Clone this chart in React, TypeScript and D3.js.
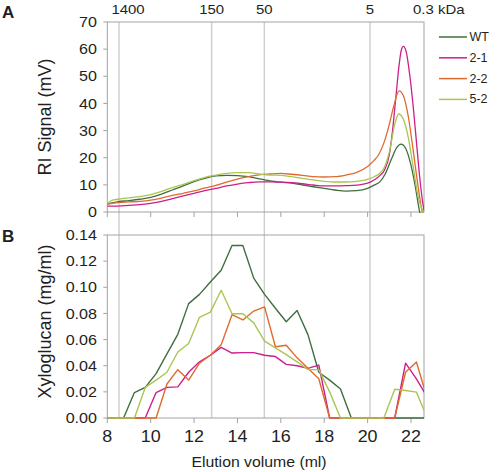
import React from "react";
import * as d3 from "d3";

// ---------- data ----------
const seriesNames = ["WT", "2-1", "2-2", "5-2"];
const seriesColors = ["#3f6e3f", "#cc1f8c", "#e06a2e", "#a9c650"];

// Panel A: RI signal (mV) vs elution volume (ml)
const riWT: [number, number][] = [
  [8, 2.9], [8.5, 3.8], [9, 4.2], [9.5, 4.7], [10, 5.4], [10.5, 6.6], [11, 8.1], [11.5, 9.6],
  [12, 11.2], [12.5, 12.4], [13, 13.3], [13.5, 13.5], [14, 13.4], [14.5, 13.0], [15, 12.2],
  [15.5, 11.5], [16, 11.0], [16.5, 10.6], [17, 9.95], [17.5, 9.3], [18, 8.7], [18.5, 8.1],
  [19, 7.7], [19.5, 7.85], [20, 8.7], [20.3, 9.9], [20.55, 11.0], [20.8, 13.8], [21.1, 19.5],
  [21.34, 23.7], [21.54, 25.0], [21.75, 23.5], [21.98, 17.9], [22.2, 9.3], [22.38, 0.8], [22.45, -2],
];
const ri21: [number, number][] = [
  [8, 2.2], [8.5, 2.2], [9, 2.45], [9.5, 2.7], [10, 3.2], [10.5, 3.9], [11, 4.9], [11.5, 5.9],
  [12, 6.9], [12.5, 7.9], [13, 8.7], [13.5, 9.6], [14, 10.3], [14.5, 10.8], [15, 11.1],
  [15.5, 11.1], [16, 11.0], [16.5, 10.8], [17, 10.4], [17.5, 9.95], [18, 9.6], [18.5, 9.6],
  [19, 9.7], [19.5, 9.9], [20, 10.6], [20.3, 11.8], [20.55, 13.3], [20.78, 15.5], [21.0, 21],
  [21.15, 30], [21.3, 42], [21.45, 54], [21.55, 59.5], [21.65, 61], [21.78, 59], [21.95, 50],
  [22.1, 39], [22.25, 26], [22.4, 13], [22.55, 3], [22.62, 0],
];
const ri22: [number, number][] = [
  [8, 2.95], [8.5, 3.45], [9, 3.7], [9.5, 3.95], [10, 4.4], [10.5, 5.15], [11, 6.1], [11.5, 6.9],
  [12, 7.75], [12.5, 8.85], [13, 9.8], [13.5, 11.05], [14, 12.15], [14.5, 13.0], [15, 13.7],
  [15.5, 14.0], [16, 14.2], [16.5, 13.9], [17, 13.5], [17.5, 13.0], [18, 12.9], [18.5, 13.0],
  [19, 13.6], [19.5, 14.6], [20, 16.8], [20.3, 19.0], [20.5, 21.0], [20.73, 25], [20.96, 31],
  [21.19, 38.5], [21.45, 44.6], [21.64, 43], [21.88, 35], [22.1, 22.8], [22.33, 9.3], [22.52, 0],
  [22.6, -2],
];
const ri52: [number, number][] = [
  [8, 3.0], [8.2, 4.3], [8.5, 4.7], [9, 5.2], [9.5, 5.65], [10, 6.4], [10.5, 7.6], [11, 9.0],
  [11.5, 10.2], [12, 11.55], [12.5, 12.8], [13, 13.6], [13.5, 14.25], [14, 14.5], [14.5, 14.5],
  [15, 14.0], [15.5, 13.6], [16, 13.5], [16.5, 13.0], [17, 12.4], [17.5, 11.8], [18, 11.3],
  [18.5, 11.05], [19, 11.05], [19.5, 11.3], [20, 12.0], [20.3, 13.0], [20.55, 14.2], [20.78, 16.6],
  [21.02, 22.7], [21.25, 32.3], [21.43, 36.1], [21.63, 34.5], [21.87, 27.7], [22.1, 16.7],
  [22.33, 5.7], [22.56, 0], [22.65, -2],
];

// Panel B: xyloglucan (mg/ml) per fraction
const fractionMl = [
  7.75, 8.25, 8.75, 9.25, 9.75, 10.25, 10.75, 11.25, 11.75, 12.25, 12.75, 13.25, 13.75, 14.25,
  14.75, 15.25, 15.75, 16.25, 16.75, 17.25, 17.75, 18.25, 18.75, 19.25, 19.75, 20.25, 20.75,
  21.25, 21.75, 22.25, 22.75,
];
const xgWT = [
  0, 0, 0, 0.0195, 0.0234, 0.034, 0.049, 0.064, 0.0875, 0.0946, 0.104, 0.113, 0.132, 0.132,
  0.107, 0.0946, 0.084, 0.0736, 0.0823, 0.0638, 0.035, 0.029, 0.0222, 0, 0, 0, 0, 0, 0, 0, 0,
];
const xg21 = [
  0, 0, 0, 0, 0, 0.0195, 0.0234, 0.0238, 0.035, 0.043, 0.048, 0.054, 0.0497, 0.050, 0.050,
  0.048, 0.047, 0.041, 0.040, 0.038, 0.0405, 0, 0, 0, 0, 0, 0, 0, 0.042, 0.030, 0.016,
];
const xg22 = [
  0, 0, 0, 0, 0, 0, 0.026, 0.037, 0.029, 0.042, 0.048, 0.056, 0.079, 0.075, 0.0818, 0.085,
  0.0545, 0.0557, 0.046, 0.038, 0.030, 0, 0, 0, 0, 0, 0, 0, 0.035, 0.0428, 0.015,
];
const xg52 = [
  0, 0, 0, 0, 0.0234, 0.029, 0.035, 0.0505, 0.057, 0.077, 0.081, 0.0977, 0.0798, 0.0798,
  0.0728, 0.0588, 0.0536, 0.0485, 0.043, 0.037, 0.037, 0.02, 0, 0, 0, 0, 0, 0.022, 0.021,
  0.0198, 0,
];

const kdaLabels = ["1400", "150", "50", "5"];
const kdaMl = [8.54, 12.81, 15.24, 20.11];
const kdaEnd = "0.3 kDa";

const xTicks = [8, 10, 12, 14, 16, 18, 20, 22];
const riTicks = [0, 10, 20, 30, 40, 50, 60, 70];
const xgTicks = [0, 0.02, 0.04, 0.06, 0.08, 0.1, 0.12, 0.14];

// ---------- layout ----------
const W = 498;
const H = 472;
const L = 107.3;
const R = 424;
const aTop = 22;
const aBot = 212;
const bTop = 235;
const bBot = 418;
const FONT = "'Liberation Sans', Arial, Helvetica, sans-serif";
const INK = "#231f20";

const x = d3.scaleLinear().domain([8, 22.6]).range([L, R]);
const yA = d3.scaleLinear().domain([0, 70]).range([aBot, aTop]);
const yB = d3.scaleLinear().domain([0, 0.14]).range([bBot, bTop]);

function T(props: {
  x: number; y: number; sx?: number; size: number; anchor?: string; weight?: string;
  rotate?: number; baseline?: string; children: React.ReactNode;
}) {
  const { sx = 1, rotate } = props;
  return (
    <text
      transform={`translate(${props.x},${props.y}) scale(${sx},1)${rotate ? ` rotate(${rotate})` : ""}`}
      textAnchor={props.anchor || "start"}
      dominantBaseline={props.baseline || "auto"}
      fontSize={props.size}
      fontWeight={props.weight || "normal"}
      fontFamily={FONT}
      fill={INK}
    >
      {props.children}
    </text>
  );
}

export default function App() {
  const riSeries = [riWT, ri21, ri22, ri52];
  const xgSeries = [xgWT, xg21, xg22, xg52];
  const lineA = d3
    .line<[number, number]>()
    .x((d) => x(d[0]))
    .y((d) => yA(d[1]))
    .curve(d3.curveMonotoneX);
  const lineB = d3
    .line<number>()
    .x((_, i) => x(fractionMl[i]))
    .y((d) => yB(d));
  const fmtB = d3.format(".2f");
  const frame = "#a3a3a3";
  const grid = "#cdcdcd";

  return (
    <svg
      width={W}
      height={H}
      style={{ position: "absolute", left: 0, top: 0, background: "#fff" }}
    >
      <defs>
        <clipPath id="clipA">
          <rect x={L} y={aTop} width={R - L} height={aBot - aTop + 1} />
        </clipPath>
        <clipPath id="clipB">
          <rect x={L} y={bTop} width={R - L} height={bBot - bTop + 1} />
        </clipPath>
      </defs>
      <rect width={W} height={H} fill="#fff" />

      {/* vertical kDa gridlines */}
      {kdaMl.map((m, i) => (
        <line key={i} x1={x(m)} x2={x(m)} y1={aTop} y2={bBot} stroke={grid} strokeWidth={1.4} />
      ))}

      {/* frames */}
      <rect x={L} y={aTop} width={R - L} height={aBot - aTop} fill="none" stroke={frame} strokeWidth={1} />
      <rect x={L} y={bTop} width={R - L} height={bBot - bTop} fill="none" stroke={frame} strokeWidth={1} />

      {/* y ticks A */}
      {riTicks.map((t) => (
        <g key={"ya" + t}>
          <line x1={L - 4} x2={L} y1={yA(t)} y2={yA(t)} stroke={frame} />
          <T x={97} y={yA(t)} size={14} sx={1.15} anchor="end" baseline="central">{t}</T>
        </g>
      ))}
      {/* y ticks B */}
      {xgTicks.map((t) => (
        <g key={"yb" + t}>
          <line x1={L - 4} x2={L} y1={yB(t)} y2={yB(t)} stroke={frame} />
          <T x={97} y={yB(t)} size={14} sx={1.15} anchor="end" baseline="central">{fmtB(t)}</T>
        </g>
      ))}
      {/* x ticks */}
      {xTicks.map((t) => (
        <g key={"x" + t}>
          <line x1={x(t)} x2={x(t)} y1={aBot} y2={aBot + 5} stroke={frame} />
          <line x1={x(t)} x2={x(t)} y1={bBot} y2={bBot + 5} stroke={frame} />
          <T x={x(t)} y={441.5} size={16} sx={1.12} anchor="middle">{t}</T>
        </g>
      ))}

      {/* kDa labels */}
      {kdaLabels.map((k, i) => (
        <T key={k} x={x(kdaMl[i]) + (i === 0 ? 9 : 0)} y={13.5} size={13} sx={1.15} anchor="middle">
          {k}
        </T>
      ))}
      <T x={413} y={13.5} size={13} sx={1.15}>{kdaEnd}</T>

      {/* panel A lines */}
      <g clipPath="url(#clipA)">
        {riSeries.map((s, i) => (
          <path key={i} d={lineA(s) || ""} fill="none" stroke={seriesColors[i]} strokeWidth={1.3} />
        ))}
      </g>
      {/* panel B lines */}
      <g clipPath="url(#clipB)">
        {xgSeries.map((s, i) => (
          <path key={i} d={lineB(s) || ""} fill="none" stroke={seriesColors[i]} strokeWidth={1.4} strokeLinejoin="round" />
        ))}
      </g>

      {/* legend */}
      {seriesNames.map((n, i) => (
        <g key={n}>
          <line x1={439} x2={467} y1={37 + i * 20.8} y2={37 + i * 20.8} stroke={seriesColors[i]} strokeWidth={1.5} />
          <T x={469.5} y={37 + i * 20.8} size={12.5} baseline="central">{n}</T>
        </g>
      ))}

      {/* axis titles */}
      <T x={45} y={117} size={18} anchor="middle" baseline="central" rotate={-90}>RI Signal (mV)</T>
      <T x={45} y={321.5} size={18} anchor="middle" baseline="central" rotate={-90}>Xyloglucan (mg/ml)</T>
      <T x={259} y={467} size={14} sx={1.13} anchor="middle">Elution volume (ml)</T>

      {/* panel letters */}
      <T x={2} y={18} size={17} weight="bold">A</T>
      <T x={2} y={242} size={17} weight="bold">B</T>
    </svg>
  );
}
